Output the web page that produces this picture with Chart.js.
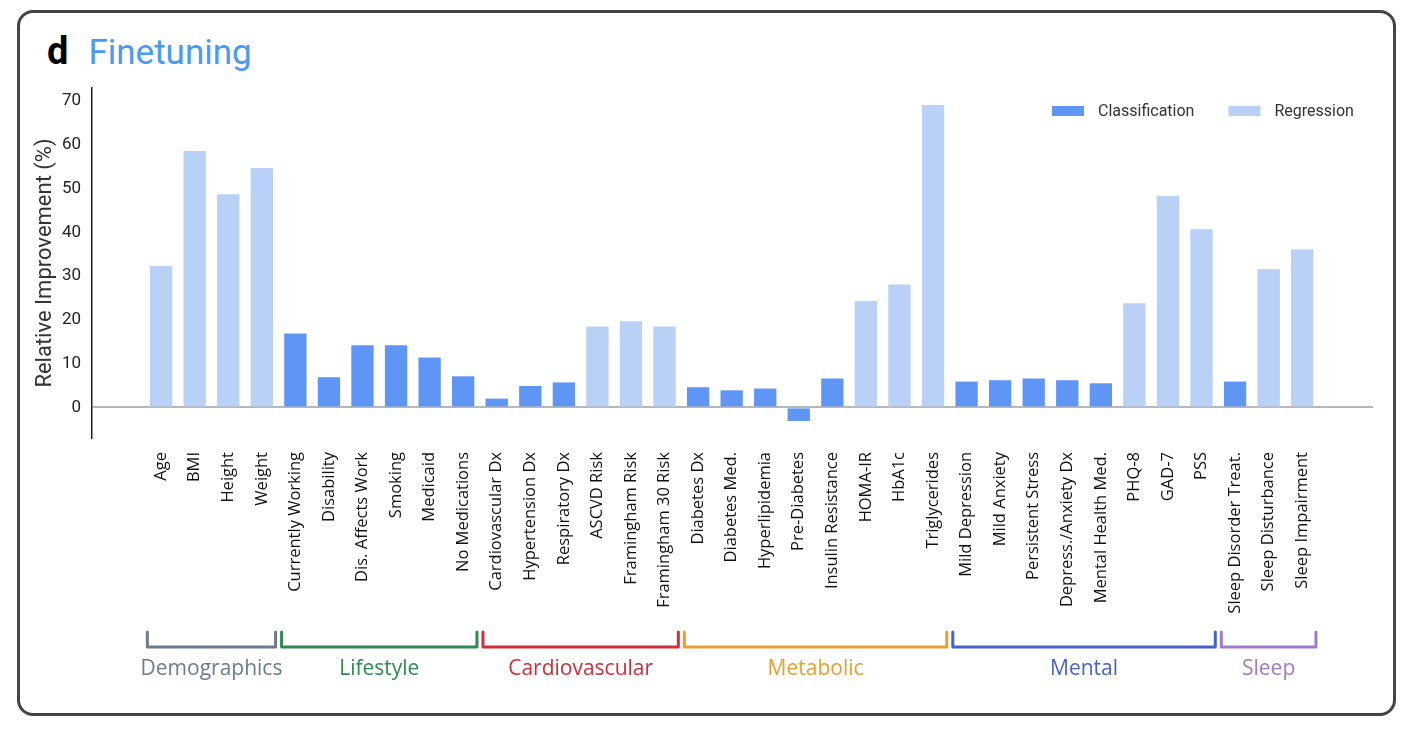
<!DOCTYPE html>
<html>
<head>
<meta charset="utf-8">
<script src="https://cdn.jsdelivr.net/npm/chart.js@4.4.1/dist/chart.umd.min.js"></script>
<style>
  body { margin: 0; background: #fff; }
  #wrap { position: relative; width: 1413px; height: 732px; overflow: hidden; }
  #frame {
    position: absolute; left: 17px; top: 10px; width: 1379px; height: 706px;
    box-sizing: border-box; border: 3px solid #444; border-radius: 16px;
  }
  #title { position: absolute; left: 47px; top: 32px; font-family: Roboto, sans-serif; font-size: 35px; line-height: 1; white-space: nowrap; }
  #title .letter { font-weight: 700; color: #000; font-size: 38px; }
  #title .name { color: #4a9af2; margin-left: 20px; }
  canvas { position: absolute; left: 0; top: 0; }
</style>
</head>
<body>
<div id="wrap">
  <div id="frame"></div>
  <div id="title"><span class="letter">d</span><span class="name">Finetuning</span></div>
  <canvas id="chart" width="1413" height="732"></canvas>
</div>
<script>
// Categories along the x axis
const categories = [
  'Age', 'BMI', 'Height', 'Weight',
  'Currently Working', 'Disability', 'Dis. Affects Work', 'Smoking', 'Medicaid', 'No Medications',
  'Cardiovascular Dx', 'Hypertension Dx', 'Respiratory Dx', 'ASCVD Risk', 'Framingham Risk', 'Framingham 30 Risk',
  'Diabetes Dx', 'Diabetes Med.', 'Hyperlipidemia', 'Pre-Diabetes', 'Insulin Resistance', 'HOMA-IR', 'HbA1c', 'Triglycerides',
  'Mild Depression', 'Mild Anxiety', 'Persistent Stress', 'Depress./Anxiety Dx', 'Mental Health Med.', 'PHQ-8', 'GAD-7', 'PSS',
  'Sleep Disorder Treat.', 'Sleep Disturbance', 'Sleep Impairment'
];

// Relative improvement (%) per category
const improvement = [
  32.3, 58.6, 48.7, 54.7,
  16.9, 6.9, 14.2, 14.2, 11.4, 7.1,
  2.0, 4.9, 5.7, 18.5, 19.7, 18.5,
  4.6, 3.9, 4.3, -3.1, 6.6, 24.3, 28.1, 69.1,
  5.9, 6.2, 6.6, 6.2, 5.5, 23.8, 48.3, 40.7,
  5.9, 31.6, 36.1
];

// Task type per category: C = classification, R = regression
const taskType = [
  'R', 'R', 'R', 'R',
  'C', 'C', 'C', 'C', 'C', 'C',
  'C', 'C', 'C', 'R', 'R', 'R',
  'C', 'C', 'C', 'C', 'C', 'R', 'R', 'R',
  'C', 'C', 'C', 'C', 'C', 'R', 'R', 'R',
  'C', 'R', 'R'
];

const yTicks = [0, 10, 20, 30, 40, 50, 60, 70];

// Category groups (first and last category index)
const groupNames = ['Demographics', 'Lifestyle', 'Cardiovascular', 'Metabolic', 'Mental', 'Sleep'];
const groupStart = [0, 4, 10, 16, 24, 32];
const groupEnd = [3, 9, 15, 23, 31, 34];
const groupColors = ['#6c7b91', '#2e8a50', '#cf2d38', '#e6a030', '#4862cd', '#9f7ccb'];

const CLASS_COLOR = '#5f95f4';
const REG_COLOR = '#b9d0f7';

function pointsFor(type) {
  const pts = [];
  categories.forEach((c, i) => {
    if (taskType[i] === type) pts.push({ x: i, y: improvement[i] });
  });
  return pts;
}

// Legend in the top right corner of the plot, plus brackets and group names
const decorPlugin = {
  id: 'decor',
  afterDraw(chart) {
    const ctx = chart.ctx;
    const xs = chart.scales.x;
    ctx.save();

    // legend
    ctx.font = '16px Roboto, sans-serif';
    ctx.textBaseline = 'middle';
    ctx.textAlign = 'left';
    let lx = 1052;
    chart.data.datasets.forEach(ds => {
      ctx.fillStyle = ds.backgroundColor;
      ctx.fillRect(lx, 106, 32, 10);
      ctx.fillStyle = '#333';
      ctx.fillText(ds.label, lx + 46, 112);
      lx += 46 + ctx.measureText(ds.label).width + 34;
    });

    // group brackets
    const top = 632, bottom = 647;
    groupNames.forEach((name, g) => {
      const left = xs.getPixelForValue(groupStart[g] - 0.5) + 3;
      const right = xs.getPixelForValue(groupEnd[g] + 0.5) - 3;
      ctx.strokeStyle = groupColors[g];
      ctx.lineWidth = 3;
      ctx.lineJoin = 'round';
      ctx.lineCap = 'round';
      ctx.beginPath();
      ctx.moveTo(left, top);
      ctx.lineTo(left, bottom);
      ctx.lineTo(right, bottom);
      ctx.lineTo(right, top);
      ctx.stroke();
      ctx.fillStyle = groupColors[g];
      ctx.font = '21px "Open Sans", sans-serif';
      ctx.textAlign = 'center';
      ctx.fillText(name, (left + right) / 2, 669);
    });
    ctx.restore();
  }
};

const chart = new Chart(document.getElementById('chart'), {
  type: 'bar',
  data: {
    datasets: [
      { label: 'Classification', data: pointsFor('C'), backgroundColor: CLASS_COLOR },
      { label: 'Regression', data: pointsFor('R'), backgroundColor: REG_COLOR }
    ]
  },
  options: {
    responsive: false,
    animation: false,
    grouped: false,
    barPercentage: 0.665,
    categoryPercentage: 1,
    layout: { padding: { top: 88, right: 40, left: 26, bottom: 94 } },
    plugins: {
      tooltip: { enabled: false },
      legend: { display: false }
    },
    scales: {
      x: {
        type: 'linear',
        offset: false,
        min: -2.06,
        max: 36.11,
        afterBuildTicks: axis => { axis.ticks = categories.map((c, i) => ({ value: i })); },
        afterFit: axis => { axis.height = 200; },
        grid: { display: false },
        border: { display: false },
        ticks: {
          autoSkip: false,
          maxRotation: 90,
          minRotation: 90,
          padding: 6,
          color: '#111',
          font: { family: '"Open Sans"', size: 16.5 },
          callback: v => categories[v]
        }
      },
      y: {
        min: -7,
        max: 73,
        afterBuildTicks: axis => { axis.ticks = yTicks.map(v => ({ value: v })); },
        afterFit: axis => { axis.width = 66; },
        grid: {
          drawTicks: false,
          color: c => (c.tick && c.tick.value === 0 ? '#b8b8b8' : 'rgba(0,0,0,0)'),
          lineWidth: 2
        },
        border: { color: '#222', width: 1.5 },
        ticks: {
          padding: 11,
          color: '#222',
          font: { family: 'Roboto', size: 17 }
        },
        title: {
          display: true,
          text: 'Relative Improvement (%)',
          color: '#333',
          font: { family: 'Roboto', size: 22 },
          padding: { top: 6, bottom: 0 }
        }
      }
    }
  },
  plugins: [decorPlugin]
});
</script>
</body>
</html>
